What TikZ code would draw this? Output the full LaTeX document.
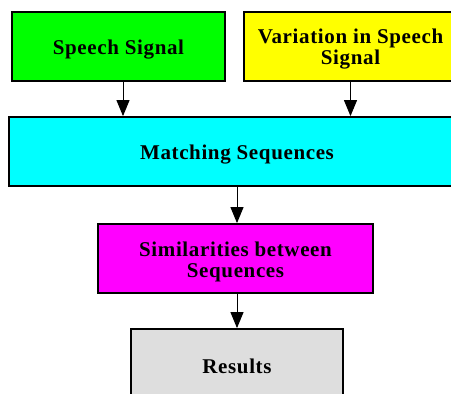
\documentclass[tikz,border=0pt]{standalone}
\usepackage{fontspec}
\setmainfont[LetterSpace=3]{Liberation Serif}
\usetikzlibrary{arrows.meta}
\definecolor{boxgreen}{HTML}{00FF00}
\definecolor{boxyellow}{HTML}{FFFF00}
\definecolor{boxcyan}{HTML}{00FFFF}
\definecolor{boxmagenta}{HTML}{FF00FF}
\definecolor{boxgray}{HTML}{DEDEDE}
\tikzset{
  stage/.style={draw=black, line width=1.8pt, minimum height=69pt, inner sep=0pt},
  caption/.style={inner sep=0pt, align=center, yshift=-3pt,
    font=\fontsize{21}{21}\selectfont\bfseries},
  flow/.style={line width=1pt, -{Triangle[length=16pt, width=13pt]}}
}
\begin{document}
\begin{tikzpicture}[x=1pt, y=-1pt]
  \useasboundingbox (0,0) rectangle (451,394);
  \clip (0,0) rectangle (451,394);
  \fill[white] (0,0) rectangle (451,394);

  % boxes
  \node[stage, fill=boxgreen, minimum width=213pt] (speech) at (118.5,46.5) {};
  \node[stage, fill=boxyellow, minimum width=213pt] (variation) at (350.5,46.5) {};
  \node[stage, fill=boxcyan, minimum width=456pt] (matching) at (237,151.5) {};
  \node[stage, fill=boxmagenta, minimum width=275pt] (similar) at (235.5,258.5) {};
  \node[stage, fill=boxgray, minimum width=212pt] (results) at (237,363.5) {};

  % captions, set a little below each box's centre
  \node[caption] (speech-t) at (speech.center) {Speech Signal};
  \node[caption] (variation-t) at (variation.center) {Variation in Speech\\Signal};
  \node[caption] (matching-t) at (matching.center) {Matching Sequences};
  \node[caption] (similar-t) at (similar.center) {Similarities between\\Sequences};
  \node[caption] (results-t) at (results.center) {Results};

  % connectors
  \draw[flow] ([xshift=4.5pt]speech.south) -- ([xshift=4.5pt]speech.south |- matching.north);
  \draw[flow] (variation.south) -- (variation.south |- matching.north);
  \draw[flow] (matching.south) -- (matching.south |- similar.north);
  \draw[flow] ([xshift=1.5pt]similar.south) -- ([xshift=1.5pt]similar.south |- results.north);
\end{tikzpicture}
\end{document}
